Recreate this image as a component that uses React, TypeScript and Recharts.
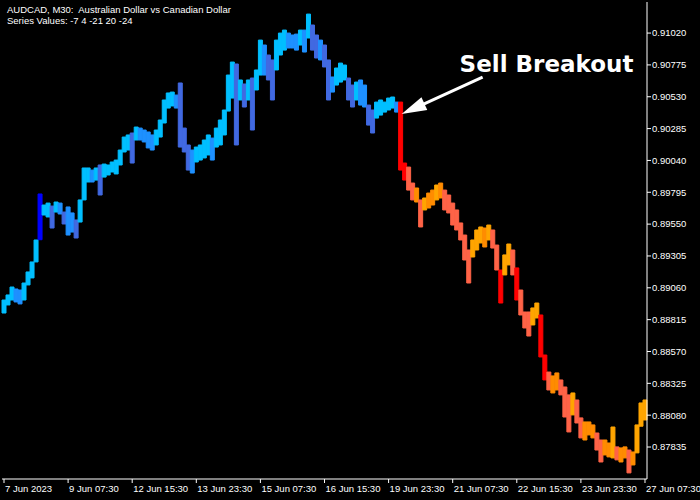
import { ComposedChart, Bar, Cell, XAxis, YAxis, ReferenceDot } from "recharts";

// AUDCAD M30, one entry per 4 px of the original chart (high / low of the slice)
const HIGHS = [
  0.88966, 0.89005, 0.89066, 0.89051, 0.89043, 0.89097, 0.89182, 0.89259, 0.89428, 0.89782,
  0.89697, 0.89712, 0.89689, 0.8972, 0.89712, 0.89643, 0.89682, 0.89636, 0.89582, 0.89736,
  0.89982, 0.89982, 0.89966, 0.89982, 0.90005, 0.90012, 0.90005, 0.90028, 0.90043, 0.9012,
  0.9022, 0.90236, 0.90251, 0.90297, 0.90289, 0.90274, 0.90259, 0.90236, 0.90274, 0.90351,
  0.90505, 0.90559, 0.90566, 0.90543, 0.90636, 0.90289, 0.90159, 0.9012, 0.90143, 0.90159,
  0.90197, 0.90236, 0.90212, 0.90289, 0.90351, 0.90428, 0.90697, 0.90797, 0.90782, 0.90659,
  0.90628, 0.90659, 0.90674, 0.90736, 0.90966, 0.90928, 0.90851, 0.90813, 0.90966, 0.9102,
  0.91043, 0.9102, 0.91005, 0.91012, 0.91043, 0.91043, 0.91166, 0.91082, 0.91005, 0.90966,
  0.90928, 0.90813, 0.90682, 0.90751, 0.90789, 0.90774, 0.90674, 0.9062, 0.90643, 0.90659,
  0.9062, 0.90466, 0.90428, 0.90489, 0.90505, 0.90489, 0.9052, 0.90528, 0.90489, 0.90489,
  0.9002, 0.89989, 0.89866, 0.89828, 0.89736, 0.89751, 0.89789, 0.89812, 0.89851, 0.89866,
  0.89812, 0.89774, 0.89712, 0.89659, 0.89559, 0.89466, 0.89351, 0.89428, 0.89505, 0.89528,
  0.8952, 0.89543, 0.89505, 0.89389, 0.89197, 0.89313, 0.89397, 0.89351, 0.89213, 0.89043,
  0.88874, 0.88874, 0.88905, 0.88943, 0.88851, 0.88543, 0.88412, 0.88382, 0.88405, 0.88351,
  0.88297, 0.88236, 0.88251, 0.88197, 0.88059, 0.88028, 0.88028, 0.88005, 0.87943, 0.87889,
  0.87889, 0.87866, 0.87989, 0.87836, 0.87828, 0.87836, 0.87812, 0.87797, 0.88005, 0.88174, 0.88197,
];

const LOWS = [
  0.88866, 0.88928, 0.88966, 0.88951, 0.88936, 0.88966, 0.89082, 0.89136, 0.89259, 0.8943,
  0.8962, 0.89605, 0.8952, 0.89643, 0.89628, 0.89551, 0.89466, 0.89489, 0.89443, 0.89566,
  0.89736, 0.89874, 0.89874, 0.89889, 0.89774, 0.89912, 0.89928, 0.89951, 0.89936, 0.90005,
  0.90105, 0.9012, 0.9002, 0.90197, 0.90197, 0.90182, 0.90136, 0.9012, 0.90159, 0.9022,
  0.90328, 0.90443, 0.90459, 0.90443, 0.90143, 0.90105, 0.89966, 0.89943, 0.90028, 0.90043,
  0.90059, 0.90082, 0.90043, 0.90143, 0.90159, 0.90236, 0.9042, 0.9052, 0.90159, 0.90505,
  0.90451, 0.90505, 0.90274, 0.90582, 0.90697, 0.90697, 0.90659, 0.90505, 0.90736, 0.90851,
  0.90889, 0.90905, 0.90905, 0.90889, 0.90928, 0.90874, 0.90982, 0.90889, 0.90828, 0.90813,
  0.90759, 0.90505, 0.90566, 0.9062, 0.90643, 0.90659, 0.90505, 0.90451, 0.90505, 0.90466,
  0.90451, 0.90312, 0.90251, 0.90366, 0.90389, 0.90412, 0.90428, 0.90443, 0.90412, 0.89966,
  0.89889, 0.89812, 0.89736, 0.8972, 0.89528, 0.89659, 0.89674, 0.89697, 0.89736, 0.89751,
  0.89659, 0.89636, 0.89543, 0.89505, 0.89428, 0.89274, 0.89097, 0.89297, 0.89351, 0.89405,
  0.89374, 0.89428, 0.89366, 0.89197, 0.88943, 0.89159, 0.89236, 0.89159, 0.88966, 0.88851,
  0.88751, 0.88689, 0.88774, 0.88828, 0.88528, 0.88351, 0.88274, 0.88251, 0.88274, 0.88236,
  0.88066, 0.87951, 0.88082, 0.8802, 0.87905, 0.87889, 0.87928, 0.87905, 0.87812, 0.8772,
  0.87774, 0.87759, 0.87751, 0.87736, 0.8772, 0.87751, 0.87636, 0.87697, 0.8779, 0.87995, 0.88043,
];

const TIME_LABELS = [
  "7 Jun 2023", "9 Jun 07:30", "12 Jun 15:30", "13 Jun 23:30", "15 Jun 07:30", "16 Jun 15:30",
  "19 Jun 23:30", "21 Jun 07:30", "22 Jun 15:30", "23 Jun 23:30", "27 Jun 07:30",
];
const LABEL_STEP = 16;

const PRICE_TICKS = [
  0.87835, 0.8808, 0.88325, 0.8857, 0.88815, 0.8906, 0.89305, 0.8955, 0.89795, 0.9004,
  0.90285, 0.9053, 0.90775, 0.9102,
];
const PRICE_DOMAIN = [0.87589, 0.91259];

const BREAKOUT_INDEX = 99;

const data = HIGHS.map((high, i) => ({ i, range: [LOWS[i], high] }));

function barColor(i: number) {
  const mid = (HIGHS[i] + LOWS[i]) / 2;
  const prev = i > 0 ? (HIGHS[i - 1] + LOWS[i - 1]) / 2 : mid;
  const d = mid - prev;
  if (i < BREAKOUT_INDEX) {
    if (d > 0.0025) return "#0000FF";
    if (d < -0.0004) return "#4169E1";
    return d >= 0 ? "#00BFFF" : "#1E90FF";
  }
  if (i === BREAKOUT_INDEX || d < -0.0016) return "#FF0000";
  if (Math.abs(d) < 0.0003) return "#FF8C00";
  return d >= 0 ? "#FFA500" : "#FF6347";
}

function TimeTick({ x, y, payload }: any) {
  const label = TIME_LABELS[payload.value / LABEL_STEP];
  return (
    <text x={x + 1} y={y + 7} fill="#FFFFFF" fontSize={9.5} textAnchor="start">
      {label}
    </text>
  );
}

function BreakoutMarker({ cx, cy }: any) {
  if (cx == null || cy == null) return null;
  const tipX = cx + 1;
  const tipY = cy + 12;
  const tailX = cx + 82;
  const tailY = cy - 25;
  const len = Math.hypot(tailX - tipX, tailY - tipY);
  const ux = (tailX - tipX) / len;
  const uy = (tailY - tipY) / len;
  const headLen = 25;
  const halfW = 7;
  const bx = tipX + ux * headLen;
  const by = tipY + uy * headLen;
  const p1 = `${bx - uy * halfW},${by + ux * halfW}`;
  const p2 = `${bx + uy * halfW},${by - ux * halfW}`;
  return (
    <g>
      <line x1={bx - ux * 2} y1={by - uy * 2} x2={tailX} y2={tailY} stroke="#FFFFFF" strokeWidth={3} />
      <polygon points={`${tipX},${tipY} ${p1} ${p2}`} fill="#FFFFFF" />
      <text
        x={cx + 59}
        y={cy - 30}
        fill="#FFFFFF"
        fontFamily="DejaVu Sans"
        fontWeight="bold"
        fontSize={23}
      >
        Sell Breakout
      </text>
    </g>
  );
}

export default function App() {
  return (
    <div
      style={{
        position: "absolute",
        left: 0,
        top: 0,
        width: 700,
        height: 500,
        background: "#000000",
        fontFamily: "Liberation Sans",
      }}
    >
      <ComposedChart
        width={700}
        height={500}
        data={data}
        margin={{ top: 2, right: 3, left: 2, bottom: 1 }}
        barCategoryGap={0}
        barGap={0}
      >
        <XAxis
          dataKey="i"
          height={20}
          interval={LABEL_STEP - 1}
          axisLine={{ stroke: "#FFFFFF" }}
          tickLine={{ stroke: "#FFFFFF" }}
          tickSize={4}
          tickMargin={2}
          tick={<TimeTick />}
        />
        <XAxis xAxisId="top" dataKey="i" orientation="top" height={0} axisLine={{ stroke: "#FFFFFF" }} tick={false} tickLine={false} />
        <YAxis
          orientation="right"
          width={50}
          domain={PRICE_DOMAIN}
          ticks={PRICE_TICKS}
          allowDataOverflow
          axisLine={{ stroke: "#FFFFFF" }}
          tickLine={{ stroke: "#FFFFFF" }}
          tickSize={4}
          tickMargin={1}
          tick={{ fill: "#FFFFFF", fontSize: 9.5 }}
          tickFormatter={(v: number) => v.toFixed(5)}
        />
        <YAxis yAxisId="left" orientation="left" width={0} domain={PRICE_DOMAIN} axisLine={{ stroke: "#FFFFFF" }} tick={false} tickLine={false} />
        <Bar dataKey="range" isAnimationActive={false}>
          {data.map((d) => (
            <Cell key={d.i} fill={barColor(d.i)} stroke={barColor(d.i)} strokeWidth={1} />
          ))}
        </Bar>
        <ReferenceDot
          x={BREAKOUT_INDEX}
          y={HIGHS[BREAKOUT_INDEX]}
          r={0}
          shape={<BreakoutMarker />}
        />
      </ComposedChart>
      <div
        style={{
          position: "absolute",
          left: 7,
          top: 4,
          color: "#FFFFFF",
          fontSize: 9.5,
          lineHeight: "11px",
          whiteSpace: "pre",
        }}
      >
        {"AUDCAD, M30:  Australian Dollar vs Canadian Dollar\nSeries Values: -7 4 -21 20 -24"}
      </div>
    </div>
  );
}
